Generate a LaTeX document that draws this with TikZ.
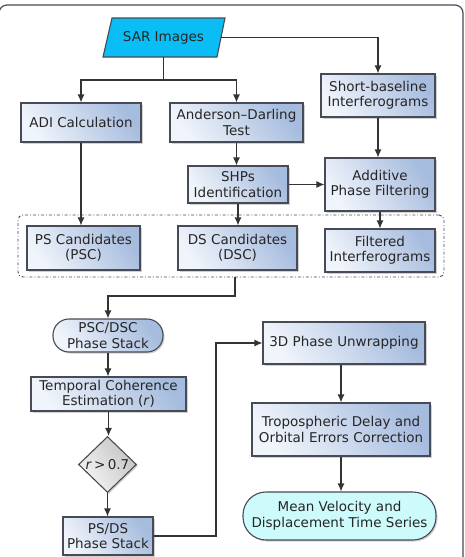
\documentclass[tikz,border=0pt]{standalone}
\usepackage{fontspec}
\setmainfont{DejaVu Sans}
\usetikzlibrary{arrows.meta,shapes.geometric,shadows}
\definecolor{boxL}{RGB}{240,244,251}
\definecolor{boxR}{RGB}{166,188,222}
\definecolor{edge}{RGB}{70,75,85}
\definecolor{sarfill}{RGB}{10,190,245}
\definecolor{meanfill}{RGB}{205,250,250}
\definecolor{grayL}{RGB}{245,245,245}
\definecolor{grayR}{RGB}{195,195,195}
\begin{document}
\begin{tikzpicture}[x=1pt,y=-1pt,
  every node/.style={font=\fontsize{13.5}{15.5}\selectfont, align=center, inner sep=0pt, text=black!85},
  shade box/.style={left color=boxL, right color=boxR, shading angle=125},
  boxshadow/.style={general shadow={fill=black, opacity=0.18, shadow xshift=1.5pt, shadow yshift=-1.5pt}},
  pbox/.style={rectangle, draw=edge, line width=1.1pt, shade box, boxshadow},
  stadium/.style={rectangle, rounded corners=16pt, draw=edge, line width=1.1pt, boxshadow},
  arr/.style={draw=black!80, line width=1.1pt, -{Latex[length=8pt,width=7pt]}},
  ln/.style={draw=black!80, line width=1.1pt}]
\useasboundingbox (0,0) rectangle (465,557);
\clip (0,0) rectangle (465,557);
\fill[white] (0,0) rectangle (465,557);
% outer frame
\draw[edge, line width=1.2pt, rounded corners=8pt] (-1,5) rectangle (463,580);

% SAR images parallelogram
\filldraw[fill=sarfill, draw=edge, line width=1.1pt] (112,18) -- (225,18) -- (217,57) -- (103,57) -- cycle;
\node[minimum width=115pt, minimum height=39pt] (sar) at (163.5,37.5) {SAR Images};

% boxes
\node[pbox, minimum width=120pt, minimum height=39pt] (adi) at (81,122.5) {ADI Calculation};
\node[pbox, minimum width=133pt, minimum height=39pt] (ad) at (236.5,122.5) {Anderson–Darling\\Test};
\node[pbox, minimum width=114pt, minimum height=43pt] (sb) at (378,95.5) {Short-baseline\\Interferograms};
\node[pbox, minimum width=100pt, minimum height=37pt] (shp) at (238,184.5) {SHPs\\Identification};
\node[pbox, minimum width=110pt, minimum height=53pt] (apf) at (380,184.5) {Additive\\Phase Filtering};

% group
\node[draw=edge, line width=0.9pt, dash dot, rounded corners=5pt, minimum width=426pt, minimum height=62pt] (grp) at (231,246) {};
\node[pbox, minimum width=113pt, minimum height=44pt] (psc) at (83.5,248) {PS Candidates\\(PSC)};
\node[pbox, minimum width=119pt, minimum height=44pt] (dsc) at (237.5,248) {DS Candidates\\(DSC)};
\node[pbox, minimum width=110pt, minimum height=43pt] (fi) at (380,250.5) {Filtered\\Interferograms};

% left column
\node[stadium, shade box, minimum width=110pt, minimum height=33pt] (pds) at (108,335.5) {PSC/DSC\\Phase Stack};
\node[pbox, minimum width=155pt, minimum height=34pt] (tce) at (108.5,394) {Temporal Coherence\\Estimation (\textit{r})};
\node[diamond, draw=edge, line width=1.1pt, left color=grayL, right color=grayR, shading angle=125, boxshadow, minimum width=58pt, minimum height=56pt] (dia) at (107.5,464.5) {\textit{r}\,>\,0.7};
\node[pbox, minimum width=90pt, minimum height=38pt] (psds) at (108,536) {PS/DS\\Phase Stack};

% right column
\node[pbox, minimum width=162pt, minimum height=42pt] (unw) at (344,343) {3D Phase Unwrapping};
\node[pbox, minimum width=178pt, minimum height=53pt] (trop) at (341,429.5) {Tropospheric Delay and\\Orbital Errors Correction};
\node[stadium, fill=meanfill, rounded corners=23pt, minimum width=193pt, minimum height=48pt] (mean) at (339.5,516) {Mean Velocity and\\Displacement Time Series};

% connectors
\coordinate (j1) at (163.5,80);
\draw[ln] (sar.south) -- (j1);
\draw[arr] (j1) -| (adi.north);
\draw[arr] (j1) -| (ad.north);
\draw[arr] (sar.east) -| (sb.north);
\draw[arr] (sb.south) -- (sb.south |- apf.north);
\draw[arr] (ad.south) -- (ad.south |- shp.north);
\draw[arr] (shp.east) -- (apf.west);
\draw[arr] (adi.south) -- (adi.south |- psc.north);
\draw[arr] (shp.south) -- (shp.south |- dsc.north);
\draw[arr] (apf.south) -- (apf.south |- fi.north);
\coordinate (j2) at (235,296);
\draw[arr] (j2 |- grp.south) -- (j2) -| (pds.north);
\draw[arr] (pds.south) -- (pds.south |- tce.north);
\draw[arr] (tce.south) -- (tce.south |- dia.north);
\draw[arr] (dia.south) -- (dia.south |- psds.north);
\coordinate (j3) at (216,536);
\draw[arr] (psds.east) -- (j3) |- (unw.west);
\draw[arr] (trop.north |- unw.south) -- (trop.north);
\draw[arr] (trop.south) -- (trop.south |- mean.north);
\end{tikzpicture}
\end{document}
